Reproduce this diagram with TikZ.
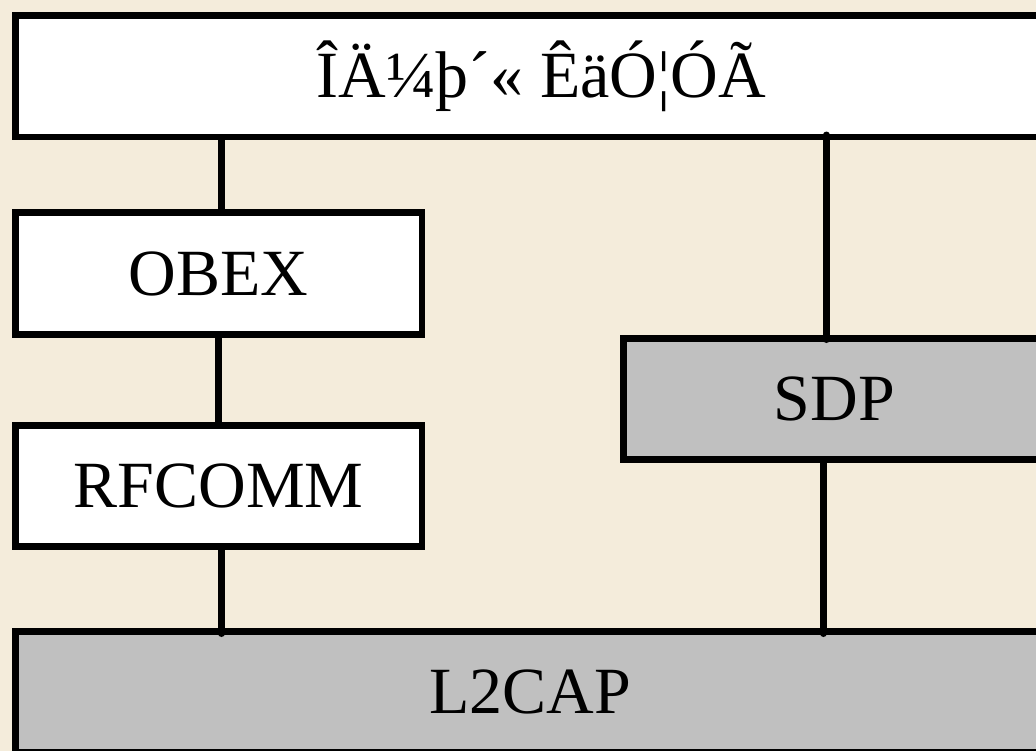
\documentclass[tikz,border=0pt]{standalone}
\usepackage{fontspec}
\setmainfont{Liberation Serif}
\usetikzlibrary{calc}
\definecolor{bgbeige}{RGB}{244,236,219}
\definecolor{boxgray}{RGB}{192,192,192}
\tikzset{
  layer/.style={draw=black, line width=6.5pt, inner sep=0pt, anchor=north west,
    text height=43.7pt, text depth=0pt,
    font=\fontsize{66}{79}\selectfont},
  whitebox/.style={layer, fill=white},
  graybox/.style={layer, fill=boxgray},
  conn/.style={draw=black, line width=7pt, line cap=round}
}
\begin{document}
\begin{tikzpicture}[x=1pt,y=-1pt]
\useasboundingbox (0,0) rectangle (1036,750);
\clip (0,0) rectangle (1036,750);
\fill[bgbeige] (-5,-5) rectangle (1041,755);
% layers
\node[whitebox, minimum width=1052pt, minimum height=121.5pt] (top) at (12,12) {ÎÄ¼þ´« ÊäÓ¦ÓÃ};
\node[whitebox, minimum width=406.5pt, minimum height=122pt] (obex) at (12,209) {OBEX};
\node[whitebox, minimum width=406.5pt, minimum height=121pt] (rfcomm) at (12,422) {RFCOMM};
\node[graybox, minimum width=422pt, minimum height=121pt] (sdp) at (620,335) {SDP};
\node[graybox, minimum width=1030pt, minimum height=121pt] (l2cap) at (12,628) {L2CAP};
% connectors
\coordinate (c1) at ([xshift=3pt]obex.north);
\draw[conn] ($(c1 |- top.south)+(0,-2)$) -- (c1);
\coordinate (c2) at ([xshift=-8pt]sdp.north);
\draw[conn] ($(c2 |- top.south)+(0,-5)$) -- ($(c2)+(0,4.5)$);
\coordinate (c3) at (obex.south);
\draw[conn] ($(c3)+(0,-2.5)$) -- (c3 |- rfcomm.north);
\coordinate (c4) at ([xshift=3pt]rfcomm.south);
\draw[conn] (c4) -- ($(c4 |- l2cap.north)+(0,5.5)$);
\coordinate (c5) at ([xshift=-11pt]sdp.south);
\draw[conn] ($(c5)+(0,-2.5)$) -- ($(c5 |- l2cap.north)+(0,5.5)$);
\end{tikzpicture}
\end{document}
